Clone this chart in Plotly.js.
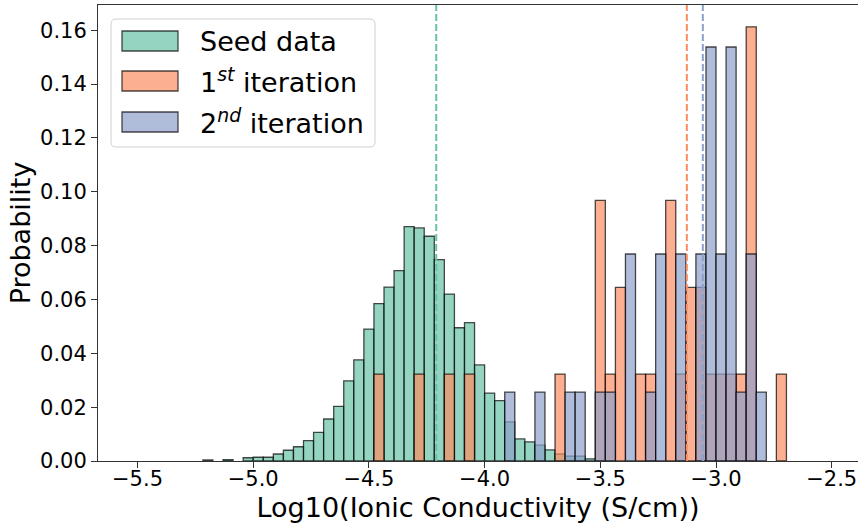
<!DOCTYPE html>
<html>
<head>
<meta charset="utf-8">
<script src="https://cdn.plot.ly/plotly-3.0.1.min.js"></script>
<style>html,body{margin:0;padding:0;background:#fff;}#chart{width:859px;height:523px;}</style>
</head>
<body>
<div id="chart"></div>
<script>
// ---- data (bin centres in log10 S/cm, probabilities) ----
const seedBins = [-5.1957,-5.1087,-5.0217,-4.9783,-4.9348,-4.8913,-4.8478,-4.8043,-4.7609,-4.7174,
  -4.6739,-4.6304,-4.5870,-4.5435,-4.5000,-4.4565,-4.4130,-4.3696,-4.3261,-4.2826,
  -4.2391,-4.1957,-4.1522,-4.1087,-4.0652,-4.0217,-3.9783,-3.9348,-3.8913,-3.8478,
  -3.8043,-3.7609,-3.7174,-3.6739,-3.6304,-3.5870,-3.5435];
const seedProb = [0.0004,0.0005,0.0012,0.0014,0.0014,0.0026,0.0040,0.0053,0.0076,0.0106,
  0.0156,0.0203,0.0298,0.0376,0.0490,0.0585,0.0646,0.0707,0.0871,0.0866,
  0.0835,0.0748,0.0620,0.0495,0.0514,0.0357,0.0252,0.0224,0.0145,0.0082,
  0.0071,0.0059,0.0041,0.0026,0.0018,0.0018,0.0008];

const iter1Bins = [-4.4565,-4.2826,-4.1522,-4.0652,-3.6739,-3.5000,-3.4565,-3.4130,-3.3261,-3.2826,
  -3.1957,-3.1522,-3.1087,-3.0652,-3.0217,-2.9783,-2.9348,-2.8913,-2.8478,-2.7174];
const iter1Prob = [0.0323,0.0323,0.0323,0.0323,0.0323,0.0968,0.0323,0.0645,0.0323,0.0323,
  0.0968,0.0323,0.0645,0.0645,0.0323,0.0323,0.0323,0.0323,0.1613,0.0323];

const iter2Bins = [-3.8913,-3.7609,-3.6304,-3.5870,-3.5000,-3.4565,-3.3696,-3.2826,-3.2391,-3.1522,
  -3.0652,-3.0217,-2.9783,-2.9348,-2.8913,-2.8478,-2.8043];
const iter2Prob = [0.0256,0.0256,0.0256,0.0256,0.0256,0.0256,0.0769,0.0256,0.0769,0.0769,
  0.0769,0.1538,0.0769,0.1538,0.0256,0.0769,0.0256];

const seriesNames = ["Seed data", "1<sup><i>st</i></sup> iteration", "2<sup><i>nd</i></sup> iteration"];
const meanValues = [-4.209, -3.126, -3.057];
const xTickVals = [-5.5, -5.0, -4.5, -4.0, -3.5, -3.0, -2.5];
const yTickVals = [0, 0.02, 0.04, 0.06, 0.08, 0.10, 0.12, 0.14, 0.16];

// ---- styles ----
const binWidth = 1/23;
const baseCols = [[102,194,165],[252,141,98],[141,160,203]];
const fillA = 0.7;
const fill = c => `rgba(${c[0]},${c[1]},${c[2]},${fillA})`;
const solid = c => `rgb(${c[0]},${c[1]},${c[2]})`;
const edge = 'rgba(0,0,0,0.7)';
const FONT = 'DejaVu Sans, Liberation Sans, sans-serif';

const series = [[seedBins, seedProb],[iter1Bins, iter1Prob],[iter2Bins, iter2Prob]];
const traces = series.map((s, i) => ({
  type: 'bar', x: s[0], y: s[1], width: binWidth, name: seriesNames[i],
  marker: {color: fill(baseCols[i]), line: {color: edge, width: 1.3}},
  showlegend: false, hoverinfo: 'x+y'
}));

// plot area in px for the hand-made legend
const L = 98, T = 5, W = 760, H = 456;
const px = X => (X - L) / W;
const py = Y => (T + H - Y) / H;

const shapes = [];
meanValues.forEach((m, i) => shapes.push({
  type: 'line', xref: 'x', yref: 'paper', x0: m, x1: m, y0: 0, y1: 1,
  line: {color: solid(baseCols[i]), width: 2, dash: '7px,3px'}, layer: 'above'
}));

// legend frame (rounded)
const bx0 = 111, bx1 = 375, by0 = 19, by1 = 147, r = 5;
const rx = r / W, ry = r / H;
const X0 = px(bx0), X1 = px(bx1), Y0 = py(by1), Y1 = py(by0);
shapes.push({
  type: 'path', xref: 'paper', yref: 'paper',
  path: `M ${X0+rx},${Y0} L ${X1-rx},${Y0} Q ${X1},${Y0} ${X1},${Y0+ry} L ${X1},${Y1-ry} Q ${X1},${Y1} ${X1-rx},${Y1} L ${X0+rx},${Y1} Q ${X0},${Y1} ${X0},${Y1-ry} L ${X0},${Y0+ry} Q ${X0},${Y0} ${X0+rx},${Y0} Z`,
  fillcolor: 'rgba(255,255,255,0.8)', line: {color: '#d0d0d0', width: 1}, layer: 'above'
});
const rowMid = [41, 81, 122];
const annotations = [];
rowMid.forEach((ym, i) => {
  shapes.push({
    type: 'rect', xref: 'paper', yref: 'paper',
    x0: px(122), x1: px(178), y0: py(ym + 10), y1: py(ym - 10),
    fillcolor: fill(baseCols[i]), line: {color: edge, width: 1.3}, layer: 'above'
  });
  annotations.push({
    xref: 'paper', yref: 'paper', x: px(198), y: py(ym), xanchor: 'left', yanchor: 'middle',
    text: seriesNames[i], showarrow: false, font: {family: FONT, size: 27, color: '#000'}
  });
});

const layout = {
  width: 859, height: 523,
  margin: {l: L, r: 859 - L - W, t: T, b: 523 - T - H},
  paper_bgcolor: '#fff', plot_bgcolor: '#fff',
  barmode: 'overlay', bargap: 0,
  font: {family: FONT, color: '#000'},
  xaxis: {
    range: [-5.6707, -2.3864], tickvals: xTickVals, ticktext: xTickVals.map(v => (v < 0 ? '\u2212' : '') + Math.abs(v).toFixed(1)),
    ticks: 'outside', ticklen: 6, tickwidth: 1, tickcolor: '#333', ticklabelstandoff: -7,
    showline: true, linecolor: '#333', linewidth: 1, mirror: true,
    showgrid: false, zeroline: false,
    tickfont: {family: FONT, size: 21, color: '#000'},
    title: {text: 'Log10(Ionic Conductivity (S/cm))', font: {family: FONT, size: 27, color: '#000'}, standoff: 14}
  },
  yaxis: {
    range: [0, 0.1694], tickvals: yTickVals, ticktext: yTickVals.map(v => v.toFixed(2)),
    ticks: 'outside', ticklen: 6, tickwidth: 1, tickcolor: '#333',
    showline: true, linecolor: '#333', linewidth: 1, mirror: false,
    showgrid: false, zeroline: false,
    tickfont: {family: FONT, size: 21, color: '#000'},
    title: {text: 'Probability', font: {family: FONT, size: 27, color: '#000'}, standoff: 1}
  },
  shapes: shapes, annotations: annotations, showlegend: false
};

Plotly.newPlot('chart', traces, layout, {staticPlot: true, displayModeBar: false});
</script>
</body>
</html>
